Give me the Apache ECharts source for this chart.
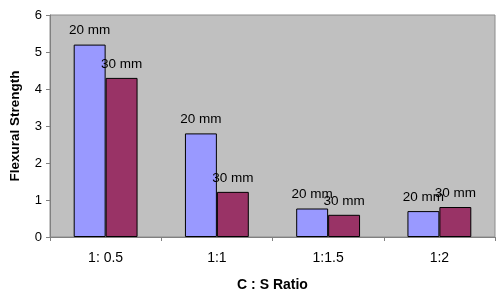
<!DOCTYPE html>
<html>
<head>
<meta charset="utf-8">
<script src="https://cdn.jsdelivr.net/npm/echarts@6/dist/echarts.min.js"></script>
<style>
  html, body { margin: 0; padding: 0; background: #ffffff; }
  #chart { width: 500px; height: 297px; }
</style>
</head>
<body>
<div id="chart"></div>
<script>
  /* 配合比类别与两组试件数据 */
  var categories = ["1: 0.5", "1:1", "1:1.5", "1:2"];
  var seriesNames = ["20 mm", "30 mm"];
  var values20 = [5.2, 2.8, 0.77, 0.7];
  var values30 = [4.3, 1.22, 0.6, 0.81];

  var FONT = "Liberation Sans, Arial, sans-serif";

  function bar(name, data, color) {
    return {
      name: name,
      type: "bar",
      data: data,
      barWidth: "28.7%",
      barGap: "0%",
      itemStyle: { color: color, borderColor: "#000000", borderWidth: 1 },
      label: {
        show: true,
        position: "top",
        distance: 7,
        color: "#000000",
        fontFamily: FONT,
        fontSize: 13.5,
        formatter: function () { return name; }
      }
    };
  }

  var chart = echarts.init(document.getElementById("chart"));
  chart.setOption({
    animation: false,
    grid: {
      left: 49, right: 5, top: 15, bottom: 60,
      show: true,
      backgroundColor: "#c0c0c0",
      borderColor: "#8c8c8c",
      borderWidth: 1
    },
    xAxis: {
      type: "category",
      data: categories,
      name: "C : S Ratio",
      nameLocation: "middle",
      nameGap: 41,
      nameTextStyle: { fontFamily: FONT, fontSize: 14, fontWeight: "bold", color: "#000000" },
      axisLine: { lineStyle: { color: "#808080" } },
      axisTick: { show: true, length: 4, lineStyle: { color: "#808080" } },
      axisLabel: { margin: 14, fontFamily: FONT, fontSize: 14, color: "#000000" }
    },
    yAxis: {
      type: "value",
      min: 0, max: 6, interval: 1,
      name: "Flexural Strength",
      nameLocation: "middle",
      nameGap: 28,
      nameTextStyle: { fontFamily: FONT, fontSize: 13.5, fontWeight: "bold", color: "#000000" },
      axisLine: { show: true, lineStyle: { color: "#808080" } },
      axisTick: { show: true, length: 4, lineStyle: { color: "#808080" } },
      axisLabel: { margin: 8, fontFamily: FONT, fontSize: 13, color: "#000000" },
      splitLine: { show: false }
    },
    series: [
      bar(seriesNames[0], values20, "#9999ff"),
      bar(seriesNames[1], values30, "#993366")
    ]
  });
</script>
</body>
</html>
